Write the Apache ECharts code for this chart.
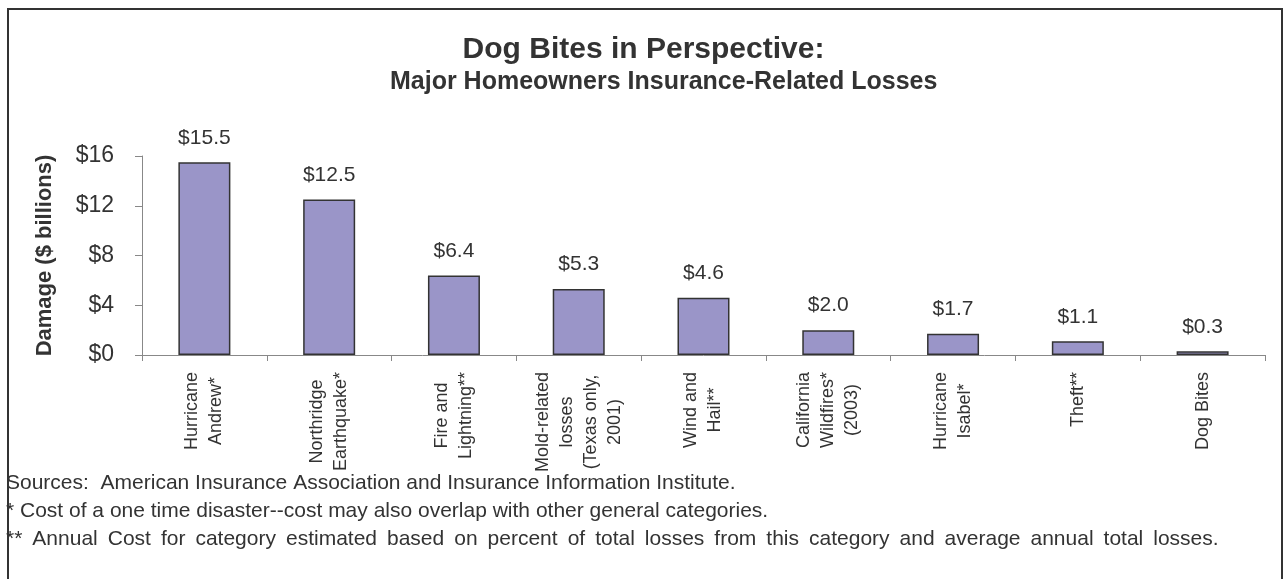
<!DOCTYPE html>
<html>
<head>
<meta charset="utf-8">
<script src="https://cdn.jsdelivr.net/npm/echarts@6/dist/echarts.min.js"></script>
<style>
html,body{margin:0;padding:0;background:#fff;}
#c{width:1287px;height:579px;}
</style>
</head>
<body>
<div id="c"></div>
<script>
const categories = [
  "Hurricane\nAndrew*",
  "Northridge\nEarthquake*",
  "Fire and\nLightning**",
  "Mold-related\nlosses\n(Texas only,\n2001)",
  "Wind and\nHail**",
  "California\nWildfires*\n(2003)",
  "Hurricane\nIsabel*",
  "Theft**",
  "Dog Bites"
];
const damage = [15.5, 12.5, 6.4, 5.3, 4.6, 2.0, 1.7, 1.1, 0.3];
const yTicks = [0, 4, 8, 12, 16];
const titleText = "Dog Bites in Perspective:";
const subtitleText = "Major Homeowners Insurance-Related Losses";
const footnotes = [
  "Sources:  American Insurance Association and Insurance Information Institute.",
  "* Cost of a one time disaster--cost may also overlap with other general categories.",
  "** Annual Cost for category estimated based on percent of total losses from this category and average annual total losses."
];

const FONT = "'Liberation Sans', Arial, sans-serif";
const chart = echarts.init(document.getElementById('c'), null, {renderer: 'canvas'});

function footnoteGraphic(t, i) {
  const base = {type: 'text', left: 6, top: 473 + i * 28};
  if (i < 2) {
    base.style = {text: t, fontFamily: FONT, fontSize: 21, fill: '#333'};
  } else {
    // wider word spacing on the last line, as in the reference
    base.style = {
      text: t.split(' ').map(function (w) { return '{w|' + w + '}'; }).join('{s| }'),
      fontFamily: FONT, fontSize: 21, fill: '#333',
      rich: {
        w: {fontFamily: FONT, fontSize: 21, fill: '#333', color: '#333'},
        s: {fontFamily: FONT, fontSize: 21, width: 10}
      }
    };
  }
  return base;
}

const option = {
  backgroundColor: '#ffffff',
  animation: false,
  textStyle: {fontFamily: FONT},
  title: [
    {text: titleText, left: 'center', top: 30,
     textStyle: {fontFamily: FONT, fontSize: 30, fontWeight: 'bold', color: '#333'}},
    {text: subtitleText, left: 385, top: 65,
     textStyle: {fontFamily: FONT, fontSize: 25, fontWeight: 'bold', color: '#333'}}
  ],
  grid: {left: 142, right: 22, top: 156, bottom: 224, containLabel: false},
  xAxis: {
    type: 'category',
    data: categories,
    axisLine: {lineStyle: {color: '#888', width: 1}},
    axisTick: {show: true, alignWithLabel: false, length: 6, lineStyle: {color: '#888'}},
    axisLabel: {
      rotate: 90,
      interval: 0,
      margin: 17,
      color: '#333',
      fontFamily: FONT,
      fontSize: 18,
      lineHeight: 24,
      formatter: function (v) {
        return v.split('\n').map(function (s) { return '{c|' + s + '}'; }).join('\n');
      },
      rich: {c: {align: 'center', fontSize: 18, lineHeight: 24, color: '#333', fontFamily: FONT}}
    }
  },
  yAxis: {
    type: 'value',
    min: yTicks[0],
    max: yTicks[yTicks.length - 1],
    interval: 4,
    name: 'Damage ($ billions)',
    nameLocation: 'middle',
    nameGap: 86,
    nameTextStyle: {fontFamily: FONT, fontSize: 22, fontWeight: 'bold', color: '#333'},
    axisLine: {show: true, lineStyle: {color: '#888', width: 1}},
    axisTick: {show: true, length: 7, lineStyle: {color: '#888'}},
    splitLine: {show: false},
    axisLabel: {
      margin: 28,
      color: '#333',
      fontFamily: FONT,
      fontSize: 23,
      formatter: function (v) { return '$' + v; }
    }
  },
  series: [{
    type: 'bar',
    data: damage,
    barWidth: 52,
    itemStyle: {color: '#9a95c8', borderColor: '#333', borderWidth: 1.5},
    label: {
      show: true,
      position: 'top',
      distance: 14,
      color: '#333',
      fontFamily: FONT,
      fontSize: 21,
      formatter: function (p) { return '$' + p.value.toFixed(1); }
    }
  }],
  graphic: [
    {type: 'rect', shape: {x: 8, y: 9, width: 1274, height: 620},
     style: {fill: null, stroke: '#333', lineWidth: 2}, silent: true, z: 100}
  ].concat(footnotes.map(footnoteGraphic))
};
chart.setOption(option);
</script>
</body>
</html>
